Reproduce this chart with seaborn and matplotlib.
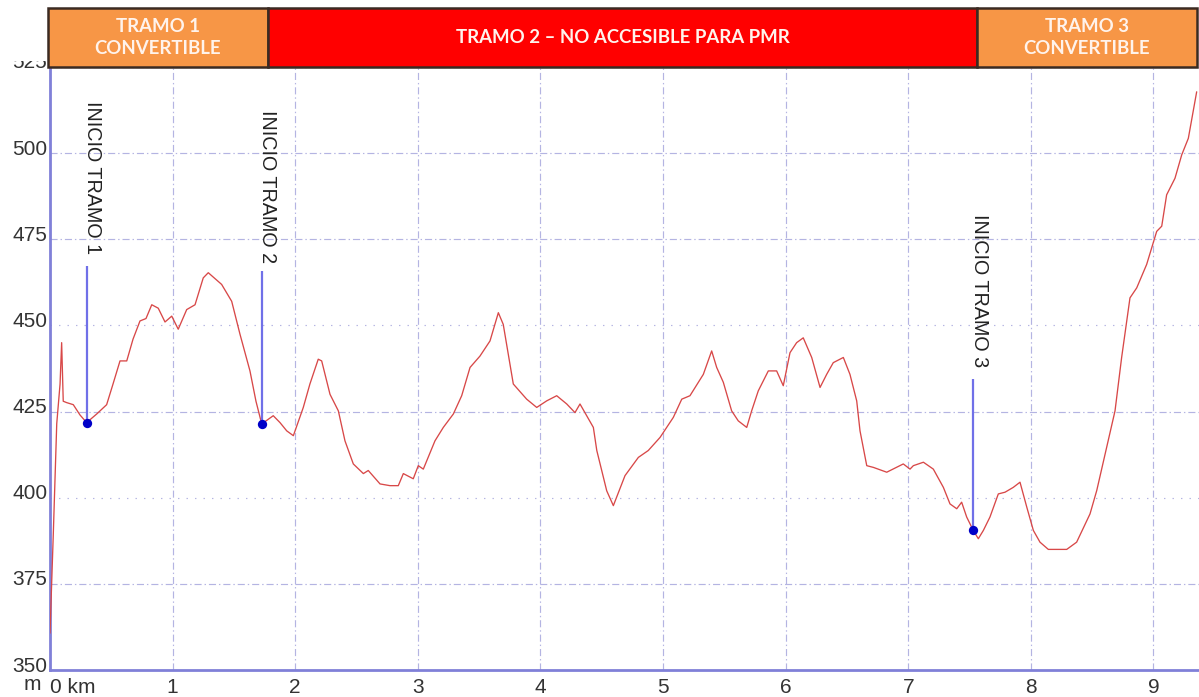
import numpy as np
import pandas as pd
import matplotlib
matplotlib.use("Agg")
import matplotlib.pyplot as plt
from matplotlib.patches import Rectangle
from matplotlib.transforms import ScaledTranslation
import seaborn as sns

# ---------------- data ----------------
distance_km = [0.000, 0.027, 0.055, 0.082, 0.095, 0.108, 0.136, 0.190, 0.245, 0.299,
               0.381, 0.462, 0.514, 0.571, 0.626, 0.677, 0.734, 0.783, 0.830, 0.883,
               0.938, 0.993, 1.046, 1.115, 1.183, 1.250, 1.291, 1.400, 1.482, 1.550,
               1.631, 1.680, 1.727, 1.770, 1.821, 1.876, 1.931, 1.985, 2.066, 2.120,
               2.188, 2.216, 2.284, 2.352, 2.406, 2.474, 2.556, 2.596, 2.692, 2.773,
               2.841, 2.882, 2.963, 3.004, 3.045, 3.140, 3.208, 3.290, 3.358, 3.426,
               3.507, 3.589, 3.657, 3.697, 3.779, 3.888, 3.970, 4.051, 4.133, 4.215,
               4.282, 4.323, 4.432, 4.460, 4.541, 4.595, 4.690, 4.799, 4.880, 4.976,
               5.084, 5.153, 5.220, 5.329, 5.397, 5.438, 5.492, 5.560, 5.614, 5.683,
               5.723, 5.777, 5.859, 5.927, 5.981, 6.036, 6.090, 6.144, 6.213, 6.281,
               6.335, 6.389, 6.471, 6.525, 6.580, 6.607, 6.662, 6.716, 6.825, 6.960,
               7.015, 7.042, 7.124, 7.205, 7.287, 7.341, 7.396, 7.436, 7.477, 7.531,
               7.572, 7.613, 7.667, 7.735, 7.790, 7.857, 7.912, 7.967, 8.021, 8.075,
               8.143, 8.293, 8.374, 8.483, 8.538, 8.619, 8.687, 8.741, 8.809, 8.864,
               8.945, 9.027, 9.068, 9.108, 9.176, 9.231, 9.285, 9.353]
elevation_m = [360.7, 389.6, 421.5, 433.0, 445.0, 428.0, 427.6, 427.0, 424.0, 421.8,
               424.3, 427.0, 433.0, 439.7, 439.7, 446.0, 451.3, 452.0, 456.0, 455.0,
               451.0, 452.7, 448.9, 454.6, 456.0, 463.8, 465.3, 461.9, 457.0, 447.4,
               436.8, 428.0, 421.4, 422.5, 423.8, 421.8, 419.4, 418.0, 426.2, 433.0,
               440.2, 439.7, 430.0, 425.2, 416.5, 409.8, 407.0, 407.9, 404.0, 403.5,
               403.5, 407.0, 405.5, 409.3, 408.3, 416.5, 420.4, 424.3, 429.6, 437.8,
               441.1, 445.5, 453.7, 450.3, 433.0, 428.6, 426.2, 428.1, 429.6, 427.2,
               424.7, 427.2, 420.4, 413.7, 402.0, 397.7, 406.4, 411.7, 413.7, 417.5,
               423.3, 428.6, 429.6, 435.8, 442.6, 437.8, 433.5, 425.2, 422.3, 420.4,
               425.2, 431.0, 436.8, 436.8, 432.5, 442.1, 445.0, 446.4, 440.7, 432.0,
               435.8, 439.2, 440.7, 435.8, 428.1, 419.4, 409.3, 408.8, 407.4, 409.8,
               408.3, 409.3, 410.3, 408.3, 403.0, 398.2, 396.8, 398.7, 394.4, 390.5,
               388.1, 390.5, 394.4, 401.1, 401.6, 403.0, 404.5, 397.3, 390.5, 387.1,
               385.0, 385.0, 387.1, 395.3, 402.1, 414.6, 425.2, 440.7, 458.0, 460.9,
               467.7, 477.3, 478.8, 487.9, 492.7, 499.5, 504.3, 517.8]

marker_labels = ["INICIO TRAMO 1", "INICIO TRAMO 2", "INICIO TRAMO 3"]
marker_km = [0.299, 1.727, 7.531]
marker_m = [421.8, 421.4, 390.5]
marker_line_top_m = [467.2, 465.7, 434.5]
marker_text_top_m = [515.0, 512.6, 482.2]

section_labels = ["TRAMO 1\nCONVERTIBLE", "TRAMO 2 \u2013 NO ACCESIBLE PARA PMR", "TRAMO 3\nCONVERTIBLE"]
section_start_km = [-0.016, 1.778, 7.56]
section_end_km = [1.778, 7.56, 9.356]
section_colors = ["#F79646", "#FF0000", "#F79646"]

y_ticks = [350, 375, 400, 425, 450, 475, 500, 525]
x_ticks = [0, 1, 2, 3, 4, 5, 6, 7, 8, 9]
x_tick_labels = ["0 km", "1", "2", "3", "4", "5", "6", "7", "8", "9"]

# ---------------- style ----------------
sns.set_style("white")
plt.rcParams["font.family"] = ["Liberation Sans", "DejaVu Sans"]

W, H = 1199, 697
fig = plt.figure(figsize=(W / 100, H / 100), dpi=100)
ax_left, ax_right, ax_bottom, ax_top = 50, 1199, 670, 67
ax = fig.add_axes([ax_left / W, (H - ax_bottom) / H, (ax_right - ax_left) / W, (ax_bottom - ax_top) / H])

df = pd.DataFrame({"km": distance_km, "m": elevation_m})
sns.lineplot(data=df, x="km", y="m", ax=ax, color="#D84848", linewidth=0.95, zorder=3)

ax.set_xlim(0, 9.372)
ax.set_ylim(350, 524.5)

# grid
ax.set_xticks(x_ticks)
ax.set_xticklabels(x_tick_labels)
ax.set_yticks(y_ticks)
grid_color = "#B4B4E2"
ax.grid(True, color=grid_color, linewidth=0.85, linestyle=(0, (6, 2.5, 1.2, 2.5)))
for t, v in zip(ax.yaxis.get_major_ticks(), y_ticks):
    if v in (400, 450):
        t.gridline.set_linestyle((0, (1.2, 6)))
ax.set_axisbelow(True)

# annotation lines, markers and texts
ann = pd.DataFrame({"km": marker_km, "m": marker_m})
ax.vlines(marker_km, marker_m, marker_line_top_m, color="#7070E8", linewidth=1.6, zorder=4)
sns.scatterplot(data=ann, x="km", y="m", ax=ax, color="#0000C8", s=45, edgecolor="#0000C8",
                linewidth=0, zorder=5)
for lab, xk, yt in zip(marker_labels, marker_km, marker_text_top_m):
    ax.annotate(lab, xy=(xk, yt), xytext=(4.5, 0), textcoords="offset points",
                rotation=270, ha="center", va="top", fontsize=14.2, color="#222222")

# spines & ticks
for s in ("top", "right"):
    ax.spines[s].set_visible(False)
for s in ("left", "bottom"):
    ax.spines[s].set_color("#8080D8")
    ax.spines[s].set_linewidth(2.0)
ax.tick_params(axis="both", length=0, labelsize=15, labelcolor="#333333")
ax.tick_params(axis="x", pad=6)
ax.tick_params(axis="y", pad=2)
ax.xaxis.get_majorticklabels()[0].set_horizontalalignment("left")
shift_up = ScaledTranslation(0, 6 / 100, fig.dpi_scale_trans)
for lbl in ax.yaxis.get_majorticklabels():
    lbl.set_transform(lbl.get_transform() + shift_up)
ax.set_xlabel("")
ax.set_ylabel("")
fig.text(24 / W, 1 - 685 / H, "m", fontsize=15, color="#333333", ha="left", va="center")

# header (white band over the top of the figure, with the section boxes)
band = fig.add_axes([0, 1 - 61 / H, 1, 61 / H])
band.set_axis_off()
band.add_patch(Rectangle((0, 0), 1, 1, transform=band.transAxes, facecolor="white",
                         edgecolor="none"))
hax = fig.add_axes([ax_left / W, 1 - 67 / H, (ax_right - ax_left) / W, 59 / H])
hax.set_xlim(ax.get_xlim())
hax.set_ylim(0, 1)
hax.axis("off")
for lab, a, b, c in zip(section_labels, section_start_km, section_end_km, section_colors):
    hax.add_patch(Rectangle((a, 0), b - a, 1, facecolor=c, edgecolor="#3A2A22", linewidth=1.8,
                            clip_on=False))
    hax.text((a + b) / 2, 0.5, lab, ha="center", va="center", color="#FFF3EC",
             fontsize=13.4, fontweight="bold", family=["Lato", "DejaVu Sans"], linespacing=1.35)

fig.savefig("out.png", dpi=100)
